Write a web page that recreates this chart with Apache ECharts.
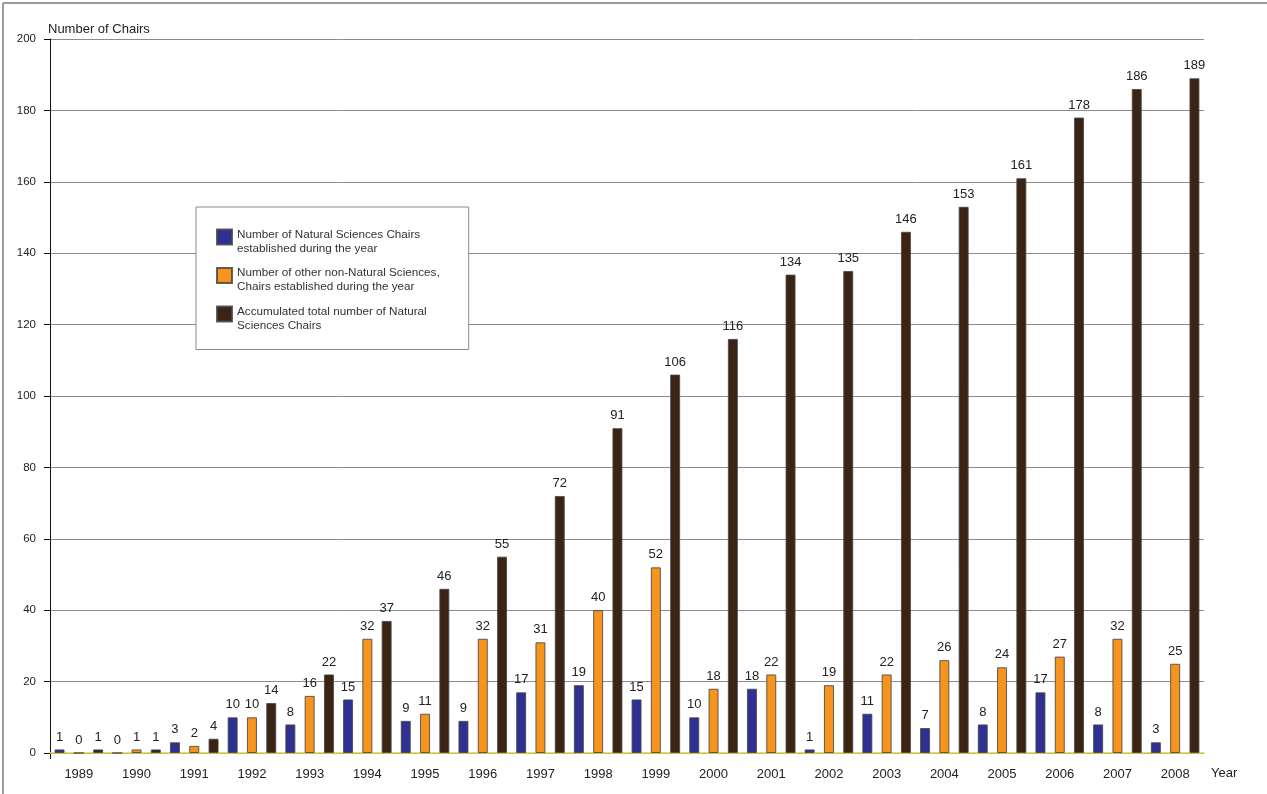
<!DOCTYPE html>
<html>
<head>
<meta charset="utf-8">
<title>Number of Chairs</title>
<script src="https://cdn.jsdelivr.net/npm/echarts@6/dist/echarts.min.js"></script>
<style>
  html, body { margin: 0; padding: 0; background: #fff; }
  #chart { width: 1267px; height: 794px; }
</style>
</head>
<body>
<div id="chart"></div>
<script>
// Years on the category axis
const years = ['1989','1990','1991','1992','1993','1994','1995','1996','1997','1998',
               '1999','2000','2001','2002','2003','2004','2005','2006','2007','2008'];

// Natural Sciences chairs established each year
const naturalSciences = [1, 0, 3, 10, 8, 15, 9, 9, 17, 19, 15, 10, 18, 1, 11, 7, 8, 17, 8, 3];

// Other (non-Natural Sciences) chairs established each year
const otherChairs = [0, 1, 2, 10, 16, 32, 11, 32, 31, 40, 52, 18, 22, 19, 22, 26, 24, 27, 32, 25];

// Accumulated total of Natural Sciences chairs
const accumulated = [1, 1, 4, 14, 22, 37, 46, 55, 72, 91, 106, 116, 134, 135, 146, 153, 161, 178, 186, 189];

// Series names (shown in the legend, two lines each)
const seriesNames = [
  'Number of Natural Sciences Chairs\nestablished during the year',
  'Number of other non-Natural Sciences,\nChairs established during the year',
  'Accumulated total number of Natural\nSciences Chairs'
];

const FONT = "'Liberation Sans', Arial, Helvetica, sans-serif";
const colors = ['#2e3192', '#f7941d', '#3c2415'];

const chart = echarts.init(document.getElementById('chart'), null, { renderer: 'canvas' });

function barSeries(name, data, color) {
  return {
    name: name,
    type: 'bar',
    data: data,
    barWidth: 10,
    barGap: '93%',
    itemStyle: { color: color, borderColor: 'rgba(70,70,70,0.85)', borderWidth: 1 },
    label: {
      show: true,
      position: 'top',
      distance: 6,
      fontFamily: FONT,
      fontSize: 13,
      color: '#222'
    },
    emphasis: { disabled: true },
    animation: false
  };
}

chart.setOption({
  backgroundColor: '#fff',
  textStyle: { fontFamily: FONT },
  grid: { left: 50, right: 63, top: 39, bottom: 41, containLabel: false },
  legend: {
    orient: 'vertical',
    left: 196,
    top: 207,
    padding: [13, 29, 18, 20],
    backgroundColor: '#fff',
    borderColor: '#8a8a8a',
    borderWidth: 1,
    icon: 'rect',
    itemWidth: 15,
    itemHeight: 15,
    itemGap: 4,
    selectedMode: false,
    // a short spacer line lowers the two text lines so the swatch sits by the first line
    formatter: function (name) {
      const lines = name.split('\n');
      return '{s| }\n' + lines.map(function (l) { return '{t|' + l + '}'; }).join('\n');
    },
    textStyle: {
      fontFamily: FONT,
      fontSize: 11.7,
      color: '#333',
      rich: {
        s: { fontSize: 6, lineHeight: 9 },
        t: { fontFamily: FONT, fontSize: 11.7, lineHeight: 14, color: '#333' }
      }
    },
    data: seriesNames
  },
  xAxis: {
    type: 'category',
    data: years,
    name: 'Year',
    nameLocation: 'end',
    nameGap: 7,
    nameTextStyle: { fontFamily: FONT, fontSize: 13, color: '#222', verticalAlign: 'top', padding: [14, 0, 0, 0] },
    axisLine: { show: true, lineStyle: { color: '#e2d13a', width: 1.5 } },
    axisTick: { show: false },
    axisLabel: { fontFamily: FONT, fontSize: 13, color: '#222', margin: 15 },
    splitLine: { show: false }
  },
  yAxis: {
    type: 'value',
    min: 0,
    max: 200,
    interval: 20,
    name: 'Number of Chairs',
    nameLocation: 'end',
    nameGap: 3,
    nameTextStyle: { fontFamily: FONT, fontSize: 13, color: '#222', align: 'left', padding: [0, 0, 0, -2] },
    axisLine: { show: true, lineStyle: { color: '#111', width: 1 } },
    axisTick: { show: true, length: 6, lineStyle: { color: '#111' } },
    axisLabel: { fontFamily: FONT, fontSize: 11.5, color: '#222', margin: 14 },
    splitLine: { show: true, lineStyle: { color: '#8c8c8c', width: 1 } }
  },
  graphic: [
    { type: 'line', shape: { x1: 3, y1: 3, x2: 1267, y2: 3 }, style: { stroke: '#9a9a9a', lineWidth: 2 }, silent: true },
    { type: 'line', shape: { x1: 3, y1: 3, x2: 3, y2: 794 }, style: { stroke: '#9a9a9a', lineWidth: 2 }, silent: true },
    { type: 'line', shape: { x1: 50.5, y1: 753, x2: 50.5, y2: 759 }, style: { stroke: '#111', lineWidth: 1 }, silent: true }
  ],
  series: [
    barSeries(seriesNames[0], naturalSciences, colors[0]),
    barSeries(seriesNames[1], otherChairs, colors[1]),
    barSeries(seriesNames[2], accumulated, colors[2])
  ],
  animation: false
});
</script>
</body>
</html>
